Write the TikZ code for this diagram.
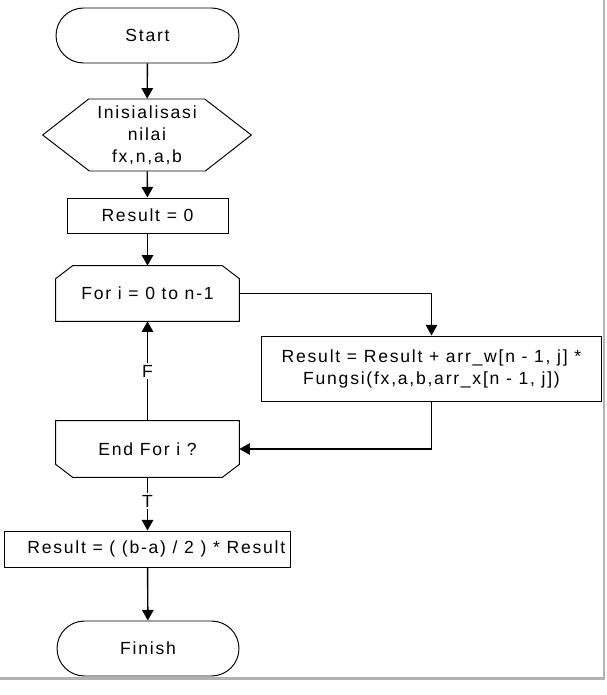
\documentclass[tikz,border=0pt]{standalone}
\usepackage{fontspec}
\setmainfont{Liberation Sans}[LetterSpace=10]
\usetikzlibrary{arrows.meta,shapes.misc}

\begin{document}
\begin{tikzpicture}[x=0.02cm, y=-0.02cm, line join=miter,
    every node/.style={font=\fontsize{10}{12.5}\selectfont, align=center},
    box/.style={draw, line width=0.55pt, inner sep=0pt},
    term/.style={box, rounded rectangle, minimum width=3.66cm, minimum height=1.1cm},
    proc/.style={box, rectangle},
    shell/.style={inner sep=0pt, minimum width=3.66cm, minimum height=1.1cm},
    outline/.style={line width=0.55pt},
    flow/.style={line width=0.8pt, -{Triangle[width=6.5pt,length=6pt]}},
    lbl/.style={fill=white, inner sep=1pt}]
  \useasboundingbox (0,0) rectangle (606,695);
  % bingkai
  \draw[black!30, line width=1.2pt] (0,678.5) -- (604,678.5) -- (604,0);
  % mulai dan inisialisasi
  \node[term] (start) at (147.5,35.5) {Start};
  \node[inner sep=0pt, minimum width=4.16cm, minimum height=1.44cm] (init) at (147,135)
    {Inisialisasi\\nilai\\fx,n,a,b};
  \draw[outline] (init.west) -- ++(46,-36) -- ++(116,0) -- (init.east)
    -- ++(-46,36) -- ++(-116,0) -- cycle;
  \node[proc, minimum width=3.22cm, minimum height=0.7cm] (res0) at (147.5,215.5) {Result = 0};
  % perulangan
  \node[shell] (loop) at (147.5,293.5) {For i = 0 to n-1};
  \draw[outline] (loop.south west) -- ([yshift=-0.26cm]loop.north west)
    -- ([xshift=0.34cm]loop.north west) -- ([xshift=-0.34cm]loop.north east)
    -- ([yshift=-0.26cm]loop.north east) -- (loop.south east) -- cycle;
  \node[proc, minimum width=6.82cm, minimum height=1.3cm] (body) at (431.5,368.5)
    {Result = Result + arr\_w[n - 1, j] *\\Fungsi(fx,a,b,arr\_x[n - 1, j])};
  \node[shell, minimum height=1.12cm] (endl) at (147.5,449) {End For i ?};
  \draw[outline] (endl.north west) -- ([yshift=0.26cm]endl.south west)
    -- ([xshift=0.34cm]endl.south west) -- ([xshift=-0.34cm]endl.south east)
    -- ([yshift=0.26cm]endl.south east) -- (endl.north east) -- cycle;
  % hasil akhir
  \node[proc, minimum width=5.74cm, minimum height=0.72cm] (final) at (147.5,549)
    {\hspace*{0.35cm}Result = ( (b-a) / 2 ) * Result};
  \node[term, minimum width=3.64cm] (finish) at (148,648.5) {Finish};
  % panah
  \draw[flow] (start) -- (init);
  \draw[flow] (init) -- (res0);
  \draw[flow] (res0) -- (loop);
  \draw[flow] (loop.east) -| (body.north);
  \draw[flow] (body.south) |- (endl.east);
  \draw[flow] (endl) -- node[lbl] {F} (loop);
  \draw[flow] (endl) -- node[lbl, pos=0.45] {T} (final);
  \draw[flow] (final) -- (finish);
\end{tikzpicture}
\end{document}
